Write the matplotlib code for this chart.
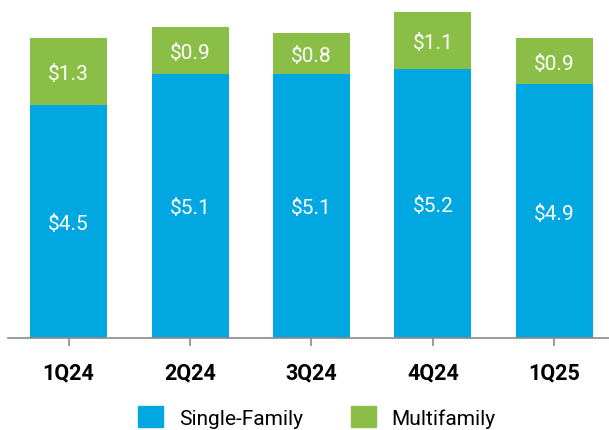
import matplotlib
matplotlib.use("Agg")
import matplotlib.pyplot as plt
from matplotlib.patches import Patch

# data (billions $)
quarters = ["1Q24", "2Q24", "3Q24", "4Q24", "1Q25"]
single_family = [4.5, 5.1, 5.1, 5.2, 4.9]
multifamily = [1.3, 0.9, 0.8, 1.1, 0.9]

blue = "#00A7E1"
green = "#8BBE46"
plt.rcParams["font.family"] = ["Roboto", "DejaVu Sans"]

fig = plt.figure(figsize=(6.09, 4.31), dpi=100)
ax = fig.add_axes([0.013, 0.214, 0.987, 0.786])

x = range(len(quarters))
ax.bar(x, single_family, width=0.635, color=blue)
ax.bar(x, multifamily, bottom=single_family, width=0.635, color=green)

for i in x:
    ax.text(i, single_family[i] / 2, f"${single_family[i]}", ha="center", va="center_baseline",
            color="white", fontsize=15)
    ax.text(i, single_family[i] + multifamily[i] / 2, f"${multifamily[i]}", ha="center",
            va="center_baseline", color="white", fontsize=15)

ax.set_xlim(-0.5, 4.45)
ax.set_ylim(0, 6.55)
ax.set_yticks([])
for s in ["top", "right", "left"]:
    ax.spines[s].set_visible(False)
ax.spines["bottom"].set_color("#8a8a8a")
ax.spines["bottom"].set_linewidth(1.2)
ax.set_xticks(list(x))
ax.set_xticklabels(quarters, fontsize=15.5, fontweight="bold")
ax.tick_params(axis="x", length=6, width=1.2, color="#8a8a8a", pad=11)

handles = [Patch(color=blue), Patch(color=green)]
fig.legend(handles, ["Single-Family", "Multifamily"], loc="lower center",
           bbox_to_anchor=(0.52, -0.038), ncol=2, frameon=False, fontsize=15,
           handlelength=1.2, handleheight=1.2, handletextpad=0.75, columnspacing=2.3)

fig.savefig("out.png", dpi=100)
